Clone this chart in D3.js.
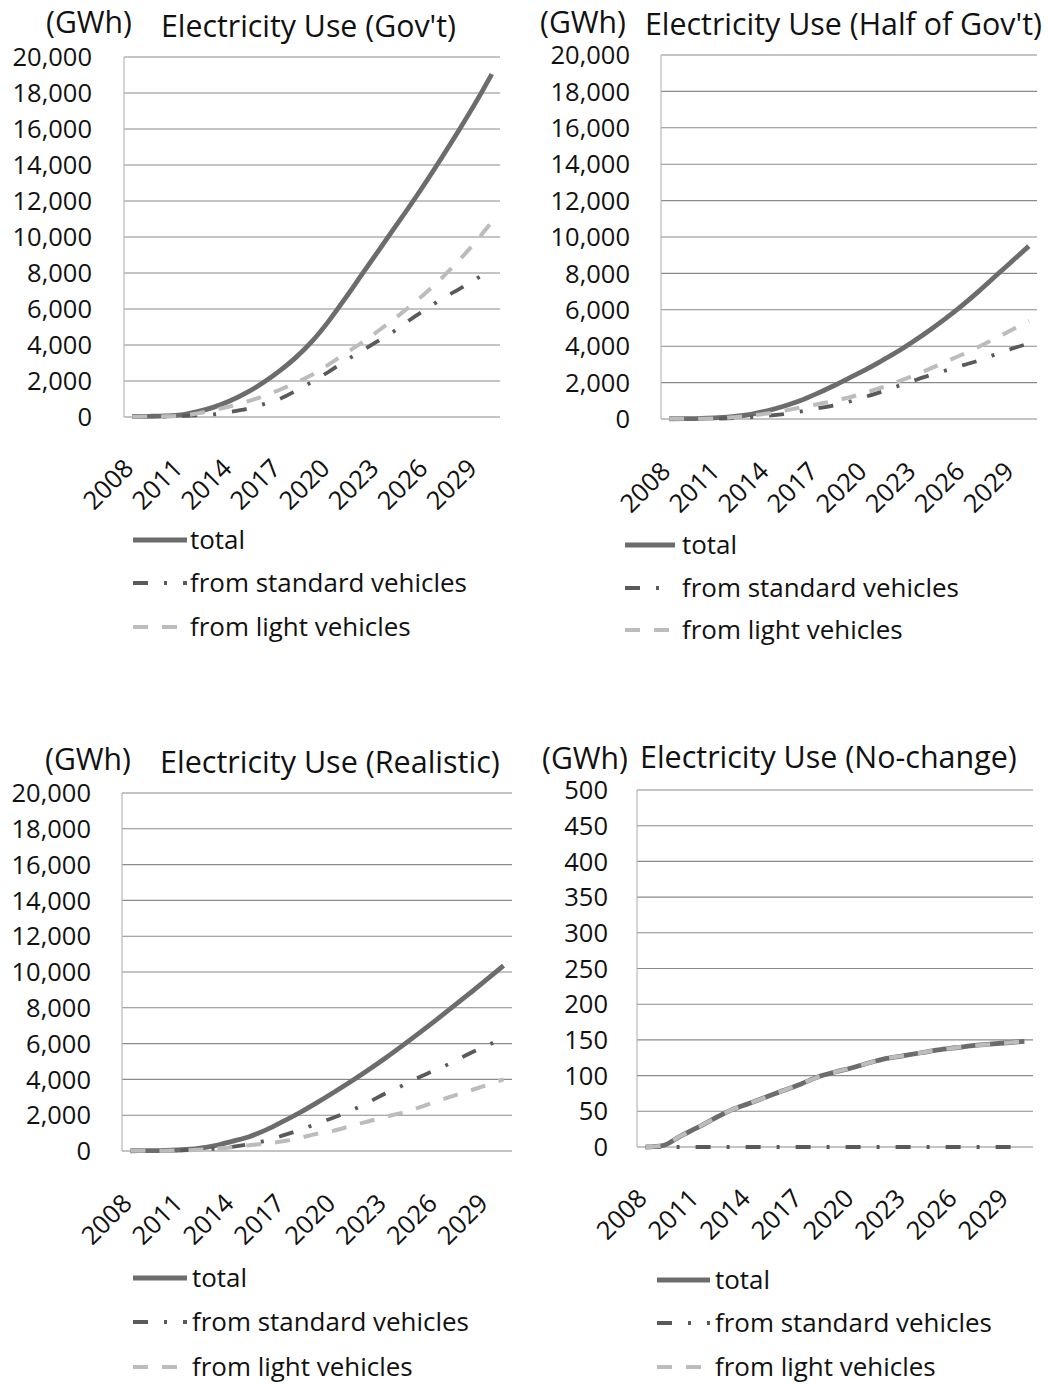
<!DOCTYPE html>
<html><head><meta charset="utf-8">
<script src="https://cdn.jsdelivr.net/npm/d3@7/dist/d3.min.js"></script>
<style>
body{margin:0;background:#fff}
text{font-family:"Open Sans","Noto Sans",sans-serif;fill:#111}
</style>
</head><body>
<svg id="chart" width="1048" height="1384"></svg>
<script>
// ---------- data ----------
const years = ["2008","2009","2010","2011","2012","2013","2014","2015","2016","2017","2018","2019","2020","2021","2022","2023","2024","2025","2026","2027","2028","2029","2030"];
const yearLabels = ["2008","2011","2014","2017","2020","2023","2026","2029"];
const seriesNames = ["total","from standard vehicles","from light vehicles"];
const titles = ["Electricity Use (Gov't)","Electricity Use (Half of Gov't)","Electricity Use (Realistic)","Electricity Use (No-change)"];
const unitLabel = "(GWh)";
const ticksLarge = [0,2000,4000,6000,8000,10000,12000,14000,16000,18000,20000];
const ticksSmall = [0,50,100,150,200,250,300,350,400,450,500];

const govTotal    = [30,40,60,120,300,550,900,1350,1900,2550,3300,4200,5300,6550,7850,9150,10450,11750,13100,14500,15950,17450,19050];
const govStandard = [10,15,25,50,90,150,280,450,700,1000,1450,1950,2500,3100,3650,4200,4750,5400,6000,6600,7100,7650,8200];
const govLight    = [20,25,35,70,200,380,600,850,1150,1500,1900,2350,2900,3500,4100,4750,5430,6150,6930,7780,8710,9730,10850];

const halfTotal    = [15,20,35,70,140,260,450,700,1000,1380,1800,2250,2700,3200,3720,4300,4920,5580,6300,7070,7880,8690,9500];
const halfStandard = [5,8,12,25,50,100,170,270,410,570,730,950,1220,1500,1810,2120,2420,2690,2960,3230,3560,3870,4150];
const halfLight    = [10,13,18,35,100,190,300,450,620,800,980,1180,1450,1730,2050,2400,2780,3180,3570,4000,4450,4920,5400];

const realTotal    = [15,20,35,70,150,300,540,800,1180,1650,2150,2700,3280,3880,4510,5170,5860,6570,7300,8050,8800,9580,10350];
const realStandard = [5,8,15,35,70,130,230,380,580,870,1180,1530,1870,2260,2700,3200,3640,4110,4530,4960,5450,5880,6300];
const realLight    = [8,10,15,30,70,130,210,320,420,540,740,960,1140,1400,1650,1900,2130,2420,2760,3070,3370,3680,4000];

const ncTotal    = [0,2,15,27,40,52,61,70,79,88,98,105,111,118,124,128,132,136,139,142,144,146,148];
const ncStandard = [0,0,0,0,0,0,0,0,0,0,0,0,0,0,0,0,0,0,0,0,0,0,0];
const ncLight    = [0,2,15,27,40,52,61,70,79,88,98,105,111,118,124,128,132,136,139,142,144,146,148];

// ---------- layout ----------
const panels = [
  {title:titles[0], series:[govTotal,govStandard,govLight], ticks:ticksLarge,
   left:124,right:500,top:57,bottom:417, tickX:92, unitX:46, unitY:33, titleX:161, titleY:37, titleW:295,
   legLine:[133,187], legText:190, legY:[540,583,627], xlabDy:53},
  {title:titles[1], series:[halfTotal,halfStandard,halfLight], ticks:ticksLarge,
   left:661,right:1037,top:55,bottom:419, tickX:630, unitX:540, unitY:33, titleX:645, titleY:35, titleW:397,
   legLine:[625,675], legText:682, legY:[545,588,630], xlabDy:54},
  {title:titles[2], series:[realTotal,realStandard,realLight], ticks:ticksLarge,
   left:122,right:512,top:793,bottom:1151, tickX:91, unitX:45, unitY:770, titleX:160, titleY:773, titleW:340,
   legLine:[133,187], legText:192, legY:[1278,1322,1367], xlabDy:54},
  {title:titles[3], series:[ncTotal,ncStandard,ncLight], ticks:ticksSmall,
   left:637,right:1033,top:790,bottom:1147, tickX:608, unitX:542, unitY:769, titleX:640, titleY:768, titleW:377,
   legLine:[657,710], legText:715, legY:[1280,1323,1367], xlabDy:53}
];

const styles = [
  {stroke:"#6c6c6c", width:4.8, dash:null},
  {stroke:"#5a5a5a", width:3.8, dash:"15,16,3,16"},
  {stroke:"#bcbcbc", width:4, dash:"15,14"}
];

const svg = d3.select("#chart");
const fmt = d3.format(",");

// helper: font size so a string spans a given width
function fitSize(str, width) {
  const t = svg.append("text").attr("font-size", 100).text(str);
  const w = t.node().getComputedTextLength();
  t.remove();
  return 100 * width / w;
}
const legendSize = fitSize(seriesNames[1], 277);
const unitSize = fitSize(unitLabel, 86);

panels.forEach(p => {
  const g = svg.append("g");
  const x = d3.scalePoint().domain(years).range([p.left, p.right]).padding(0.5);
  const y = d3.scaleLinear().domain([0, d3.max(p.ticks)]).range([p.bottom, p.top]);

  // gridlines
  g.selectAll("line.grid").data(p.ticks).join("line")
    .attr("x1", p.left).attr("x2", p.right)
    .attr("y1", d => y(d)).attr("y2", d => y(d))
    .attr("stroke", "#8a8a8a").attr("stroke-width", 1.1);
  // vertical axis line
  g.append("line").attr("x1", p.left).attr("x2", p.left)
    .attr("y1", p.top).attr("y2", p.bottom)
    .attr("stroke", "#b8b8b8").attr("stroke-width", 1.2);

  // y tick labels
  g.selectAll("text.yt").data(p.ticks).join("text")
    .attr("x", p.tickX).attr("y", d => y(d)).attr("dy", "0.36em")
    .attr("text-anchor", "end").attr("font-size", 25.5)
    .text(d => fmt(d));

  // unit + title
  g.append("text").attr("x", p.unitX).attr("y", p.unitY).attr("font-size", unitSize).text(unitLabel);
  g.append("text").attr("x", p.titleX).attr("y", p.titleY)
    .attr("font-size", fitSize(p.title, p.titleW)).text(p.title);

  // x labels
  g.selectAll("text.xl").data(yearLabels).join("text")
    .attr("text-anchor", "end").attr("font-size", 25.5)
    .attr("transform", d => `translate(${x(d) + 3},${p.bottom + p.xlabDy}) rotate(-45)`)
    .text(d => d);

  // lines
  const line = d3.line().x((d, i) => x(years[i])).y(d => y(d)).curve(d3.curveMonotoneX);
  p.series.forEach((s, k) => {
    const st = styles[k];
    g.append("path").datum(s).attr("d", line)
      .attr("fill", "none").attr("stroke", st.stroke).attr("stroke-width", st.width)
      .attr("stroke-linejoin", "round")
      .attr("stroke-dasharray", st.dash);
  });

  // legend
  seriesNames.forEach((name, k) => {
    const st = styles[k];
    g.append("line").attr("x1", p.legLine[0]).attr("x2", p.legLine[1])
      .attr("y1", p.legY[k]).attr("y2", p.legY[k])
      .attr("stroke", st.stroke).attr("stroke-width", st.width)
      .attr("stroke-dasharray", st.dash);
    g.append("text").attr("x", p.legText).attr("y", p.legY[k]).attr("dy", "0.36em")
      .attr("font-size", legendSize).text(name);
  });
});
</script>
</body></html>
